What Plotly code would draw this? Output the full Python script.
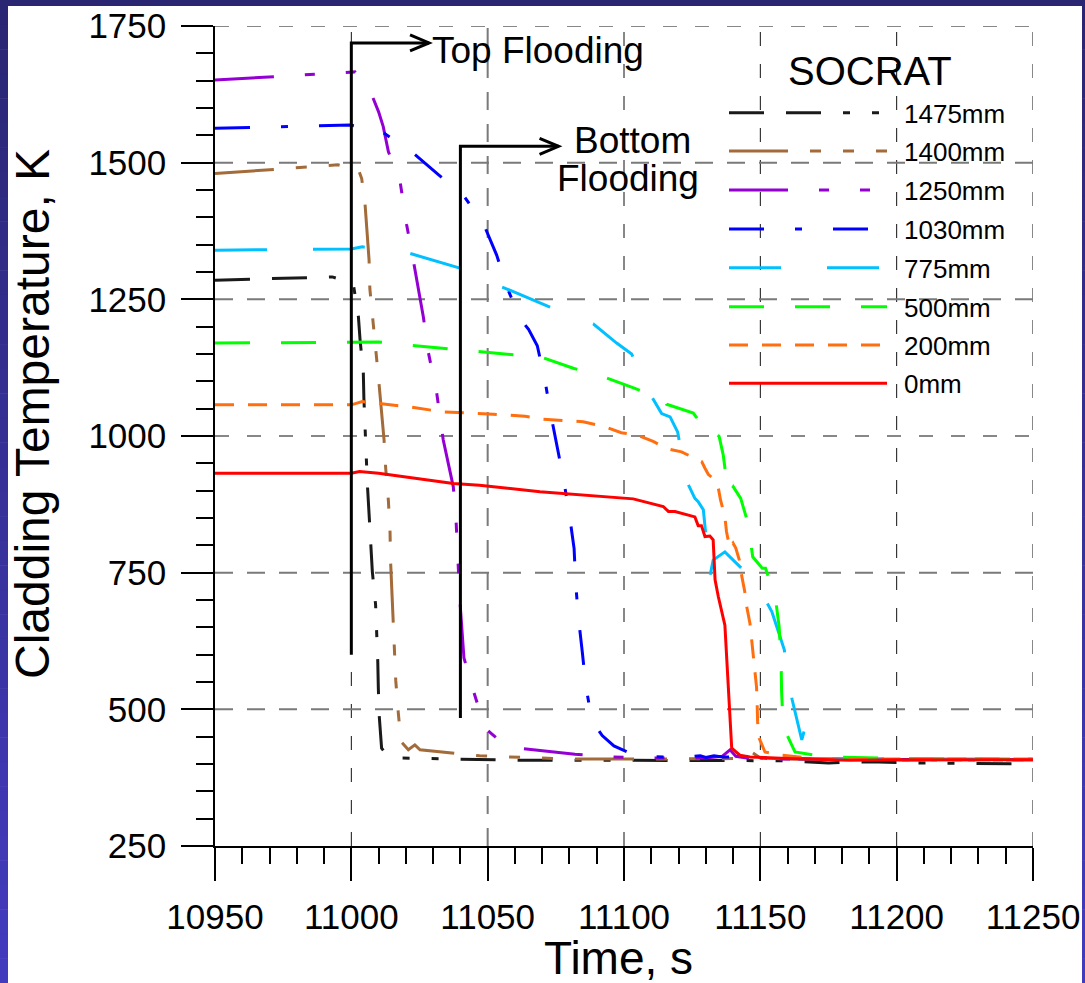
import plotly.graph_objects as go

# ---------------------------------------------------------------- data
# Cladding temperature histories (SOCRAT) at eight elevations
t_1475 = [10950, 10975, 10993, 11000.7, 11002.6, 11003.2, 11004.4, 11004.6, 11005, 11005.6, 11005.9,
          11006.6, 11007.1, 11007.7, 11008.9, 11009.3, 11009.7, 11009.9, 11010.2, 11011.1, 11013,
          11017.8, 11030, 11045, 11060, 11080, 11100, 11120, 11140, 11160, 11175, 11190, 11207,
          11225, 11240, 11250]
T_1475 = [1285, 1289, 1291, 1279, 1218, 1176, 1115, 1069, 1017, 956, 910,
          849, 804, 752, 691, 649, 587, 539, 490, 429, 416,
          411, 410, 409, 407, 407, 407, 407, 407, 406, 402, 404, 402,
          401, 400, 400]

t_1400 = [10950, 10995, 11002.6, 11003.8, 11005, 11006.5, 11006.8, 11008, 11009, 11010.1, 11012,
          11012.6, 11013.6, 11014.2, 11014.4, 11015.4, 11015.6, 11016.3, 11017.2, 11018.2, 11020.9,
          11023.3, 11025.2, 11036, 11047, 11058, 11080, 11100, 11120, 11140, 11145, 11147.3, 11150,
          11160, 11180, 11200, 11225, 11250]
T_1400 = [1480, 1496, 1487, 1471, 1426, 1322, 1269, 1210, 1152, 1099, 993,
          941, 881, 823, 770, 660, 612, 552, 495, 441, 426,
          435, 426, 420, 415, 413, 409, 409, 409, 409, 410, 420, 411,
          409, 408, 408, 408, 408]

t_1250 = [10950, 11001.3, 11007.5, 11010, 11011.7, 11013.6, 11017.8, 11020.3, 11022.7, 11026.4,
          11028.2, 11031.3, 11033.7, 11037.4, 11038.4, 11039.2, 11039.8, 11041.3, 11044.7, 11049,
          11055, 11061.2, 11070, 11082, 11095.5, 11110, 11130, 11136, 11138.9, 11141, 11145,
          11160, 11180, 11200, 11225, 11250]
T_1250 = [1651, 1666, 1624, 1593, 1566, 1520, 1468, 1386, 1322, 1218,
          1154, 1079, 993, 907, 846, 768, 700, 594, 535, 466,
          440, 429, 424, 418, 413, 411, 411, 414, 426, 414, 411,
          409, 408, 408, 408, 408]

t_1030 = [10950, 10999.5, 11011.1, 11022.1, 11031.7, 11041, 11048.4, 11053.3, 11057, 11061.9,
          11065, 11068.2, 11071, 11073.1, 11075.5, 11078, 11080, 11081.7, 11082.3, 11083.3,
          11084.7, 11086, 11088.2, 11092, 11096.3, 11105, 11120, 11128, 11130, 11133, 11136,
          11150, 11170, 11200, 11225, 11250]
T_1030 = [1563, 1569, 1557, 1520, 1479, 1441, 1389, 1331, 1273, 1215,
          1195, 1165, 1102, 1041, 980, 916, 855, 794, 729, 667,
          605, 543, 480, 452, 433, 414, 412, 415, 412, 415, 413,
          411, 409, 408, 408, 408]

t_775 = [10950, 10975, 11000, 11004, 11021.5, 11039.8, 11055.1, 11072.2, 11088.7, 11097.3,
         11102.8, 11110.5, 11113.8, 11116.9, 11119.7, 11122.7, 11123.9, 11126, 11127.2, 11129.1,
         11131.5, 11132.7, 11137, 11146.2, 11148.7, 11151.2, 11154.2, 11158.8, 11159.6, 11161.7,
         11165.2, 11166, 11167, 11169.4, 11174.3, 11200, 11225, 11250]
T_775 = [1340, 1341, 1342, 1346, 1334, 1307, 1273, 1237, 1205, 1170,
         1150, 1069, 1041, 1035, 1007, 920, 907, 886, 880, 865,
         743, 773, 788, 743, 712, 706, 679, 609, 566, 517,
         444, 459, 432, 413, 410, 409, 409, 409]

t_500 = [10950, 11000, 11010, 11021.5, 11034.4, 11045.4, 11056.4, 11069.8, 11081.4, 11092.7,
         11104, 11115, 11115.6, 11119.8, 11125.4, 11130.9, 11132.7, 11134.9, 11136.4, 11137.9,
         11138.6, 11140.1, 11142.8, 11145.5, 11147.2, 11150.7, 11151.9, 11152.9, 11155.4, 11156.9,
         11157.6, 11157.8, 11158.4, 11162.7, 11169.4, 11174.3, 11200, 11225, 11250]
T_500 = [1170, 1171, 1172, 1166, 1160, 1156, 1150, 1144, 1124, 1108,
         1087, 1066, 1058, 1051, 1042, 1005, 1010, 999, 965, 907,
         895, 907, 886, 840, 779, 758, 758, 743, 709, 651,
         590, 532, 468, 422, 416, 413, 410, 409, 409]

t_200 = [10950, 11000, 11004, 11010, 11021.5, 11033.7, 11052, 11063.7, 11070, 11085,
         11093, 11099, 11104.6, 11110.7, 11115.6, 11121.1, 11126.4, 11128.5, 11129.7, 11130.9,
         11132.7, 11134.4, 11135.4, 11137, 11137.6, 11138.8, 11140, 11141, 11142.3, 11143.1,
         11144.3, 11145, 11146.2, 11146.8, 11147.5, 11148, 11148.6, 11148.8, 11149, 11149.6,
         11151.7, 11158, 11170, 11200, 11225, 11250]
T_200 = [1057, 1057, 1063, 1060, 1053, 1044, 1040, 1036, 1031, 1026,
         1017, 1006, 1002, 990, 977, 971, 959, 953, 941, 930,
         922, 910, 883, 852, 825, 795, 804, 795, 773, 746,
         715, 688, 657, 630, 599, 572, 541, 517, 477, 447,
         422, 416, 410, 409, 409, 409]

t_0 = [10950, 11000, 11003, 11006, 11010, 11037.4, 11047, 11069.2, 11091.2, 11103.4,
       11114.4, 11116.3, 11118.7, 11124.2, 11126, 11127.2, 11128.4, 11129.7, 11131.5, 11132.7,
       11133.4, 11134.6, 11137, 11139.5, 11142.5, 11146.2, 11160, 11182.9, 11200, 11225, 11250]
T_0 = [932, 932, 935, 934, 932, 913, 910, 898, 889, 885,
       871, 862, 862, 854, 852, 836, 836, 816, 817, 810,
       737, 706, 654, 429, 416, 413, 410, 407, 408, 408, 408]

series_names = ["1475mm", "1400mm", "1250mm", "1030mm", "775mm", "500mm", "200mm", "0mm"]
series_t = [t_1475, t_1400, t_1250, t_1030, t_775, t_500, t_200, t_0]
series_T = [T_1475, T_1400, T_1250, T_1030, T_775, T_500, T_200, T_0]
series_colors = ["#1a1a1a", "#A36A3A", "#9400D3", "#0000FF", "#00C0FF", "#00FF00", "#FF6F0F", "#FF0000"]
series_dash = ["35px,22px,35px,22px,7px,22px,7px,22px",
               "59px,22px,11px,22px,11px,22px,11px,22px",
               "59px,31px,10px,31px,10px,31px",
               "35px,31px,7px,31px",
               "52px,46px",
               "35px,31px",
               "19px,14px",
               "solid"]

x_range = [10950, 11250]
y_range = [250, 1750]
x_major = [11000, 11050, 11100, 11150, 11200, 11250]
x_grid_gray = [11050]
y_major = [500, 750, 1000, 1250, 1500, 1750]
y_grid_gray = [500, 750, 1250, 1500]

flood_top_t = 11000        # top flooding starts
flood_bottom_t = 11040     # bottom flooding starts

# ---------------------------------------------------------------- layout geometry
W, H = 1085, 983
ML, MR, MT, MB = 215, 52, 26, 137
PW, PH = W - ML - MR, H - MT - MB
FONT = "Liberation Sans, Arial, sans-serif"


def fx(px):
    return (px - ML) / PW


def fy(py):
    return (H - MB - py) / PH


def lerp_hex(c0, c1, f):
    a = [int(c0[i:i + 2], 16) for i in (1, 3, 5)]
    b = [int(c1[i:i + 2], 16) for i in (1, 3, 5)]
    return "#" + "".join(f"{round(a[k] + (b[k] - a[k]) * f):02x}" for k in range(3))


fig = go.Figure()

for name, tt, TT, col, dsh in zip(series_names, series_t, series_T, series_colors, series_dash):
    fig.add_trace(go.Scatter(x=tt, y=TT, mode="lines", name=name, showlegend=False,
                             line=dict(color=col, width=3, dash=dsh)))

shapes = []
# dashed grid
for xv in x_major:
    gray = xv in x_grid_gray
    shapes.append(dict(type="line", xref="x", yref="y", x0=xv, x1=xv, y0=y_range[0], y1=y_range[1],
                       layer="below",
                       line=dict(color="#7a7a7a" if gray else "#111111", width=2 if gray else 1,
                                 dash="18px,14px" if gray else "14px,18px")))
for yv in y_major:
    gray = yv in y_grid_gray
    shapes.append(dict(type="line", xref="x", yref="y", x0=x_range[0], x1=x_range[1], y0=yv, y1=yv,
                       layer="below",
                       line=dict(color="#7a7a7a" if gray else "#111111", width=2 if gray else 1,
                                 dash="18px,14px" if gray else "14px,18px")))
# legend panel background
shapes.append(dict(type="rect", xref="paper", yref="paper", x0=fx(722), x1=fx(1017),
                   y0=fy(400), y1=fy(32), layer="below", fillcolor="white", line=dict(width=0)))

# flooding markers
top_arrow_T, top_tip_t = 1719, 11028.5
bot_arrow_T, bot_tip_t = 1530, 11076
for t0, Tlow, Tarr, tip in [(flood_top_t, 600, top_arrow_T, top_tip_t),
                            (flood_bottom_t, 484, bot_arrow_T, bot_tip_t)]:
    shapes.append(dict(type="path", xref="x", yref="y", layer="above",
                       path=f"M{t0},{Tlow} L{t0},{Tarr} L{tip},{Tarr}",
                       line=dict(color="black", width=3)))
    shapes.append(dict(type="path", xref="x", yref="y", xsizemode="pixel", ysizemode="pixel",
                       xanchor=tip, yanchor=Tarr, layer="above",
                       path="M-19,8 L0,0 L-19,-8", line=dict(color="black", width=3)))

# legend samples
leg_rows = [112.7, 151, 190, 229, 267.7, 306.7, 345, 383.3]
annotations = []
for ry, name, col, dsh in zip(leg_rows, series_names, series_colors, series_dash):
    shapes.append(dict(type="line", xref="paper", yref="paper", x0=fx(729), x1=fx(887),
                       y0=fy(ry), y1=fy(ry), layer="above",
                       line=dict(color=col, width=3, dash=dsh)))
    annotations.append(dict(text=name, xref="paper", yref="paper", x=fx(902), y=fy(ry + 1),
                            xanchor="left", yanchor="middle", showarrow=False,
                            font=dict(family=FONT, size=26, color="black")))
annotations.append(dict(text="SOCRAT", xref="paper", yref="paper", x=fx(870), y=fy(71),
                        xanchor="center", yanchor="middle", showarrow=False,
                        font=dict(family=FONT, size=40, color="black")))

# flooding labels
annotations.append(dict(text="Top Flooding", xref="paper", yref="paper", x=fx(430), y=fy(50),
                        xanchor="left", yanchor="middle", showarrow=False,
                        font=dict(family=FONT, size=37, color="black")))
annotations.append(dict(text="Bottom", xref="paper", yref="paper", x=fx(632), y=fy(140),
                        xanchor="center", yanchor="middle", showarrow=False,
                        font=dict(family=FONT, size=37, color="black")))
annotations.append(dict(text="Flooding", xref="paper", yref="paper", x=fx(628), y=fy(178),
                        xanchor="center", yanchor="middle", showarrow=False,
                        font=dict(family=FONT, size=37, color="black")))

# axis titles
annotations.append(dict(text="Time, s", xref="paper", yref="paper", x=fx(618), y=fy(958),
                        xanchor="center", yanchor="middle", showarrow=False,
                        font=dict(family=FONT, size=46, color="black")))
annotations.append(dict(text="Cladding Temperature, K", xref="paper", yref="paper", x=fx(32), y=fy(414),
                        xanchor="center", yanchor="middle", showarrow=False, textangle=-90,
                        font=dict(family=FONT, size=48, color="black")))

# slide frame
NSEG = 40
for i in range(NSEG):
    y_top = i * H / NSEG
    y_bot = (i + 1) * H / NSEG
    col = lerp_hex("#2a2672", "#433bbf", (i + 0.5) / NSEG)
    shapes.append(dict(type="rect", xref="paper", yref="paper", x0=fx(0), x1=fx(8),
                       y0=fy(y_bot + 0.5), y1=fy(y_top), layer="above", fillcolor=col, line=dict(width=0)))
    shapes.append(dict(type="rect", xref="paper", yref="paper", x0=fx(1082), x1=fx(W),
                       y0=fy(y_bot + 0.5), y1=fy(y_top), layer="above", fillcolor=col, line=dict(width=0)))
shapes.append(dict(type="rect", xref="paper", yref="paper", x0=fx(0), x1=fx(W),
                   y0=fy(6), y1=fy(0), layer="above", fillcolor="#2a2672", line=dict(width=0)))

fig.update_layout(
    width=W, height=H,
    margin=dict(l=ML, r=MR, t=MT, b=MB, autoexpand=False),
    paper_bgcolor="white", plot_bgcolor="white",
    shapes=shapes, annotations=annotations,
    showlegend=False,
    font=dict(family=FONT, color="black"),
)
fig.update_xaxes(range=x_range, tick0=10950, dtick=50, tickformat="d", ticks="outside", ticklen=33,
                 tickwidth=1.5, tickcolor="black", showline=True, linecolor="black", linewidth=1.5,
                 showgrid=False, zeroline=False, ticklabelstandoff=6,
                 tickfont=dict(family=FONT, size=35, color="black"),
                 minor=dict(dtick=10, tick0=10950, ticks="outside", ticklen=16, tickwidth=1.5,
                            tickcolor="black", showgrid=False))
fig.update_yaxes(range=y_range, tick0=250, dtick=250, tickformat="d", ticks="outside", ticklen=32,
                 tickwidth=1.5, tickcolor="black", showline=True, linecolor="black", linewidth=1.5,
                 showgrid=False, zeroline=False, ticklabelstandoff=8,
                 tickfont=dict(family=FONT, size=35, color="black"),
                 minor=dict(dtick=50, tick0=250, ticks="outside", ticklen=17, tickwidth=1.5,
                            tickcolor="black", showgrid=False))

fig.write_html("out.html")
